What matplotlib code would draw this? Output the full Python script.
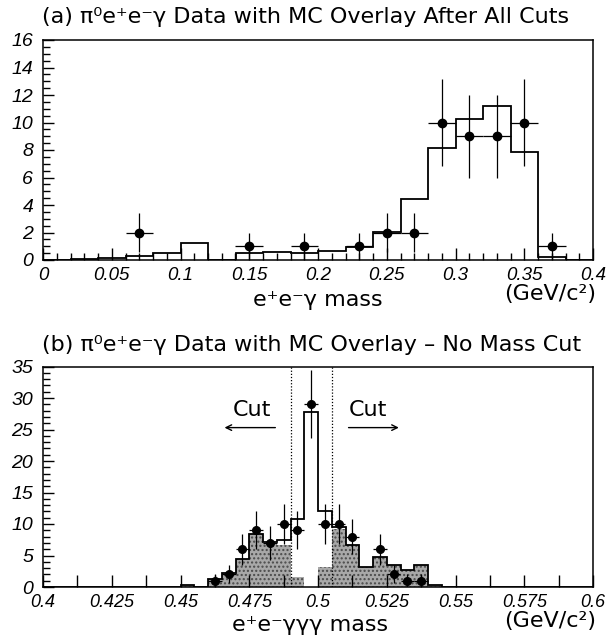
import matplotlib
matplotlib.use("Agg")
import matplotlib.pyplot as plt
from matplotlib.ticker import MultipleLocator, FuncFormatter
import numpy as np

# panel (a): e+e-gamma mass, 20 bins 0..0.4
edges_a = np.linspace(0.0, 0.4, 21)
mc_a = [0.0, 0.05, 0.12, 0.29, 0.48, 1.21, 0.0, 0.48, 0.6, 0.5,
        0.65, 0.97, 2.06, 4.41, 8.12, 10.25, 11.2, 7.83, 0.24, 0.0]
data_x_a = [0.07, 0.15, 0.19, 0.23, 0.25, 0.27, 0.29, 0.31, 0.33, 0.35, 0.37]
data_y_a = [2, 1, 1, 1, 2, 2, 10, 9, 9, 10, 1]

# panel (b): e+e-ggg mass, 40 bins 0.4..0.6
edges_b = np.linspace(0.4, 0.6, 41)
bkg_b = [0]*10 + [0.3, 0.0, 1.3, 2.2, 4.4, 8.4, 7.0, 6.7, 1.6, 0.0,
                  3.1, 9.2, 6.7, 3.1, 4.8, 3.5, 2.7, 3.5, 0.3] + [0]*11
tot_b = [0]*10 + [0.3, 0.0, 1.3, 2.2, 4.4, 8.4, 7.1, 7.4, 10.8, 27.8,
                  12.1, 9.5, 6.7, 3.1, 4.8, 3.5, 2.7, 3.5, 0.3] + [0]*11
data_x_b = [0.4625, 0.4675, 0.4725, 0.4775, 0.4825, 0.4875, 0.4925, 0.4975,
            0.5025, 0.5075, 0.5125, 0.5225, 0.5275, 0.5325, 0.5375]
data_y_b = [1, 2, 6, 9, 7, 10, 9, 29, 10, 10, 8, 6, 2, 1, 1]
cut_lo, cut_hi = 0.4901, 0.5051

W, H = 611, 637
fig = plt.figure(figsize=(W/100, H/100), dpi=100)

title_size = 16
label_size = 16


def style_axis(ax, xmaj, xmin, ymaj, ymin, xmaj_len, xmin_len, xsize, ysize):
    ax.xaxis.set_major_locator(MultipleLocator(xmaj))
    ax.xaxis.set_minor_locator(MultipleLocator(xmin))
    ax.yaxis.set_major_locator(MultipleLocator(ymaj))
    ax.yaxis.set_minor_locator(MultipleLocator(ymin))
    ax.tick_params(axis="x", which="major", direction="in", length=xmaj_len, width=1, pad=5)
    ax.tick_params(axis="x", which="minor", direction="in", length=xmin_len, width=1)
    ax.tick_params(axis="y", which="major", direction="in", length=8, width=1, pad=7)
    ax.tick_params(axis="y", which="minor", direction="in", length=5, width=1)
    fmt = FuncFormatter(lambda v, p: "%g" % round(v, 4))
    ax.xaxis.set_major_formatter(fmt)
    ax.yaxis.set_major_formatter(fmt)
    for lbl in ax.get_xticklabels():
        lbl.set_fontfamily("Liberation Sans")
        lbl.set_fontstyle("italic")
        lbl.set_fontsize(xsize)
    for lbl in ax.get_yticklabels():
        lbl.set_fontfamily("Liberation Sans")
        lbl.set_fontstyle("italic")
        lbl.set_fontsize(ysize)
    for s in ax.spines.values():
        s.set_linewidth(1.1)


# ---- panel (a)
ax1 = fig.add_axes([43/W, 1-260/H, 550/W, 220/H])
ax1.stairs(mc_a, edges_a, color="black", lw=1.3)
ax1.errorbar(data_x_a, data_y_a, xerr=0.01, yerr=np.sqrt(data_y_a), fmt="o",
             color="black", ms=6, elinewidth=0.9, capsize=0)
ax1.set_xlim(0, 0.4)
ax1.set_ylim(0, 16)
style_axis(ax1, 0.05, 0.01, 2, 0.5, 9, 5, 13.5, 14)
fig.text(42/W, 1-17/H, "(a) π⁰e⁺e⁻γ Data with MC Overlay After All Cuts",
         fontsize=title_size, va="center", ha="left")
fig.text(318/W, 1-300/H, "e⁺e⁻γ mass", fontsize=label_size, ha="center", va="center")
fig.text(596/W, 1-294/H, "(GeV/c²)", fontsize=label_size, ha="right", va="center")

# ---- panel (b)
ax2 = fig.add_axes([43/W, 1-587/H, 550/W, 220.5/H])
ax2.stairs(bkg_b, edges_b, fill=True, facecolor="#a8a8a8", edgecolor="#4a4a4a",
           hatch="....", lw=0)
ax2.stairs(tot_b, edges_b, color="black", lw=1.3)
ax2.errorbar(data_x_b, data_y_b, xerr=0.0025, yerr=np.sqrt(data_y_b), fmt="o",
             color="black", ms=5.5, elinewidth=0.9, capsize=0)
ax2.axvline(cut_lo, color="black", ls=(0, (1, 1.5)), lw=0.9)
ax2.axvline(cut_hi, color="black", ls=(0, (1, 1.5)), lw=0.9)
ax2.annotate("", xy=(0.465, 25.3), xytext=(0.4855, 25.3),
             arrowprops=dict(arrowstyle="->", lw=1, color="black"))
ax2.annotate("", xy=(0.5304, 25.3), xytext=(0.5101, 25.3),
             arrowprops=dict(arrowstyle="->", lw=1, color="black"))
ax2.text(0.4759, 26.5, "Cut", fontsize=label_size, ha="center", va="bottom")
ax2.text(0.5183, 26.5, "Cut", fontsize=label_size, ha="center", va="bottom")
ax2.set_xlim(0.4, 0.6)
ax2.set_ylim(0, 35)
style_axis(ax2, 0.025, 0.0125, 5, 1, 9, 9, 13, 14)
fig.text(42/W, 1-345/H, "(b) π⁰e⁺e⁻γ Data with MC Overlay – No Mass Cut",
         fontsize=title_size, va="center", ha="left")
fig.text(310/W, 1-625/H, "e⁺e⁻γγγ mass", fontsize=label_size, ha="center", va="center")
fig.text(596/W, 1-621/H, "(GeV/c²)", fontsize=label_size, ha="right", va="center")

fig.savefig("out.png", dpi=100)
